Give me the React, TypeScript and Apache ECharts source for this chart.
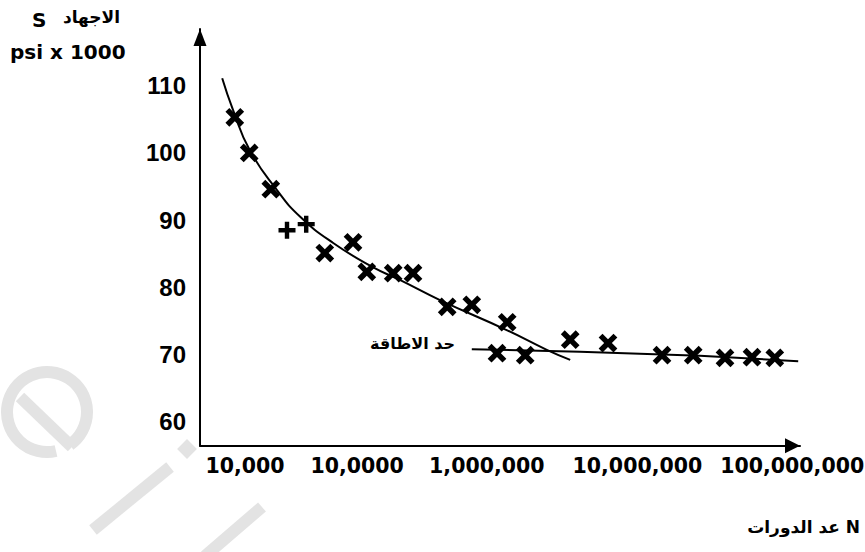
import React, { useEffect, useRef } from "react";
import * as echarts from "echarts";

// Tick labels (x positions are relative positions along the hand-drawn axis, 0..100)
const yTicks = [60, 70, 80, 90, 100, 110];
const xTickPos = [7.5, 26.2, 47.8, 72.9, 98.7];
const xTickLabels = ["10,000", "10,0000", "1,000,000", "10,000,000", "100,000,000"];

// Test points marked with "x"
const crossMarks: [number, number][] = [
  [5.8, 105.3], [8.2, 100.0], [11.8, 94.6], [20.8, 85.1], [25.5, 86.7],
  [27.8, 82.3], [32.2, 82.1], [35.5, 82.1], [41.2, 77.1], [45.3, 77.4],
  [51.2, 74.8], [49.5, 70.2], [54.2, 69.9], [61.7, 72.2], [68.0, 71.7],
  [77.0, 69.9], [82.2, 69.9], [87.5, 69.5], [92.0, 69.6], [95.8, 69.5],
];
// Test points marked with "+"
const plusMarks: [number, number][] = [
  [14.5, 88.5], [17.7, 89.4],
];
// Fitted S-N curve
const curve: [number, number][] = [
  [3.7, 111.1], [5.5, 106.4], [8.3, 100.4], [12.8, 94.5], [16.7, 90.5],
  [22.2, 86.6], [28.8, 83.0], [33.3, 81.1], [40.0, 78.1], [51.2, 73.6],
  [57.8, 70.7], [61.7, 69.2],
];
// Endurance limit line
const plateau: [number, number][] = [
  [45.3, 70.8], [63.3, 70.4], [83.3, 69.8], [99.7, 69.0],
];

const CROSS = "path://M3.7,0H6.3V3.7H10V6.3H6.3V10H3.7V6.3H0V3.7H3.7Z";
const WM = "#e3e3e3";

export default function App() {
  const ref = useRef<HTMLDivElement>(null);
  useEffect(() => {
    if (!ref.current) return;
    const chart = echarts.init(ref.current, null, { renderer: "svg" });
    const option: any = {
      animation: false,
      backgroundColor: "#ffffff",
      grid: {
        left: 200,
        right: 65,
        top: 29,
        bottom: 106.3,
        containLabel: false,
        outerBoundsMode: "none",
      },
      xAxis: {
        type: "value",
        min: 0,
        max: 100,
        splitLine: { show: false },
        axisTick: { show: false },
        axisLine: {
          show: true,
          onZero: false,
          lineStyle: { color: "#000", width: 2 },
          symbol: ["none", "triangle"],
          symbolSize: [15, 15],
          symbolOffset: [0, -7.5],
        },
        axisLabel: {
          customValues: xTickPos,
          formatter: (v: number) => {
            let best = 0;
            for (let i = 1; i < xTickPos.length; i++) {
              if (Math.abs(xTickPos[i] - v) < Math.abs(xTickPos[best] - v)) best = i;
            }
            return xTickLabels[best];
          },
          margin: 10,
          color: "#000",
          fontFamily: "DejaVu Sans",
          fontWeight: "bold",
          fontSize: 20.5,
          showMinLabel: true,
          showMaxLabel: true,
          hideOverlap: false,
        },
      },
      yAxis: {
        type: "value",
        min: 56.43,
        max: 118.44,
        splitLine: { show: false },
        axisTick: { show: false },
        axisLine: {
          show: true,
          onZero: false,
          lineStyle: { color: "#000", width: 2 },
          symbol: ["none", "triangle"],
          symbolSize: [13, 17],
          symbolOffset: [0, -8.5],
        },
        axisLabel: {
          customValues: yTicks,
          margin: 14,
          color: "#000",
          fontFamily: "Liberation Sans",
          fontWeight: "bold",
          fontSize: 24,
        },
      },
      graphic: [
        // faint watermark
        {
          type: "arc",
          z: -10,
          shape: { cx: 47, cy: 412, r: 40, startAngle: (77 * Math.PI) / 180, endAngle: (415 * Math.PI) / 180, clockwise: true },
          style: { stroke: WM, lineWidth: 12, fill: null },
        },
        { type: "line", z: -10, shape: { x1: 20, y1: 397, x2: 72, y2: 447 }, style: { stroke: WM, lineWidth: 12 } },
        { type: "line", z: -10, shape: { x1: 93, y1: 530, x2: 170, y2: 467 }, style: { stroke: WM, lineWidth: 12 } },
        { type: "line", z: -10, shape: { x1: 262, y1: 507, x2: 205, y2: 556 }, style: { stroke: WM, lineWidth: 12 } },
        { type: "rect", z: -10, x: 187, y: 449, rotation: Math.PI / 4, shape: { x: -7, y: -7, width: 14, height: 14 }, style: { fill: WM } },
        // axis titles
        {
          type: "text", left: 32, top: 10,
          style: { text: "S", fill: "#000", font: "bold 20px 'DejaVu Sans'" },
        },
        {
          type: "text", right: 745, top: 8,
          style: { text: "الاجهاد", fill: "#000", font: "bold 17px 'DejaVu Sans'" },
        },
        {
          type: "text", left: 10, top: 42,
          style: { text: "psi x 1000", fill: "#000", font: "bold 20px 'DejaVu Sans'" },
        },
        {
          type: "text", right: 5, top: 518,
          style: { text: "عد الدورات N", fill: "#000", font: "bold 17px 'DejaVu Sans'" },
        },
        {
          type: "text", left: 370, top: 335,
          style: { text: "حد الاطاقة", fill: "#000", font: "bold 16px 'DejaVu Sans'" },
        },
      ],
      series: [
        {
          type: "line",
          data: curve,
          smooth: true,
          showSymbol: false,
          clip: false,
          lineStyle: { color: "#000", width: 2 },
          z: 3,
        },
        {
          type: "line",
          data: plateau,
          smooth: false,
          showSymbol: false,
          clip: false,
          lineStyle: { color: "#000", width: 2 },
          z: 3,
        },
        {
          type: "scatter",
          data: crossMarks,
          symbol: CROSS,
          symbolSize: 21,
          symbolRotate: 45,
          itemStyle: { color: "#000", opacity: 1 },
          z: 4,
        },
        {
          type: "scatter",
          data: plusMarks,
          symbol: CROSS,
          symbolSize: 17,
          itemStyle: { color: "#000", opacity: 1 },
          z: 4,
        },
      ],
    };
    chart.setOption(option);
    return () => chart.dispose();
  }, []);
  return <div ref={ref} style={{ width: 865, height: 552, position: "absolute", left: 0, top: 0 }} />;
}
